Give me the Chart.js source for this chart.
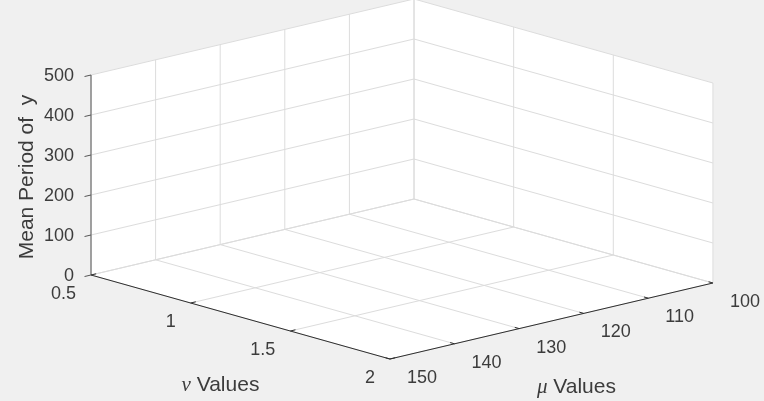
<!DOCTYPE html>
<html>
<head>
<meta charset="utf-8">
<script src="https://cdn.jsdelivr.net/npm/chart.js@4.4.0/dist/chart.umd.min.js"></script>
<style>
html, body { margin: 0; padding: 0; background: #f0f0f0; }
#wrap { width: 764px; height: 401px; }
</style>
</head>
<body>
<div id="wrap"><canvas id="meanPeriod" width="764" height="401"></canvas></div>
<script>
// 刻度 (空的 3D 座標軸, 沒有資料點)
const nuTicks = [0.5, 1, 1.5, 2];
const muTicks = [100, 110, 120, 130, 140, 150];
const zTicks = [0, 100, 200, 300, 400, 500];
const nuLabels = ['0.5', '1', '1.5', '2'];
const muLabels = ['100', '110', '120', '130', '140', '150'];
const zLabels = ['0', '100', '200', '300', '400', '500'];
const nuRange = [0.5, 2];
const muRange = [100, 150];
const zRange = [0, 500];

// 3D -> 畫面 (視角 az/el 的投影)
function proj(nu, mu, z) {
	return {
		x: 91 + (nu - 0.5) * 199.3 - (mu - 150) * 6.46,
		y: 275 + (nu - 0.5) * 56 + (mu - 150) * 1.52 - z * 0.4
	};
}
const GAP = { x: null, y: null };
function seg(arr, a, b) {
	arr.push(a, b, GAP);
}

const nu0 = nuRange[0], nu1 = nuRange[1];
const mu0 = muRange[0], mu1 = muRange[1];
const z0 = zRange[0], z1 = zRange[1];

// 白色的三個面
let box = [proj(nu0, mu1, z0), proj(nu0, mu1, z1), proj(nu0, mu0, z1), proj(nu1, mu0, z1),
	proj(nu1, mu0, z0), proj(nu1, mu1, z0), proj(nu0, mu1, z0)];

// 格線
let grid = [];
muTicks.forEach(m => seg(grid, proj(nu0, m, z0), proj(nu1, m, z0)));
nuTicks.forEach(n => seg(grid, proj(n, mu0, z0), proj(n, mu1, z0)));
muTicks.forEach(m => seg(grid, proj(nu0, m, z0), proj(nu0, m, z1)));
zTicks.forEach(z => seg(grid, proj(nu0, mu0, z), proj(nu0, mu1, z)));
nuTicks.forEach(n => seg(grid, proj(n, mu0, z0), proj(n, mu0, z1)));
zTicks.forEach(z => seg(grid, proj(nu0, mu0, z), proj(nu1, mu0, z)));

// 座標軸 + 刻度線
let axisXY = [];
seg(axisXY, proj(nu0, mu1, z0), proj(nu1, mu1, z0));
seg(axisXY, proj(nu1, mu1, z0), proj(nu1, mu0, z0));
nuTicks.forEach(n => seg(axisXY, proj(n, mu1, z0), proj(n, mu1 - 0.8, z0)));
muTicks.forEach(m => seg(axisXY, proj(nu1, m, z0), proj(nu1 - 0.022, m, z0)));
let axisZ = [];
seg(axisZ, proj(nu0, mu1, z0), proj(nu0, mu1, z1));
zTicks.forEach(z => seg(axisZ, proj(nu0, mu1, z), proj(nu0, mu1 + 1, z)));

function lineSet(data, color, order) {
	return {
		data: data,
		showLine: true,
		borderColor: color,
		borderWidth: 1,
		pointRadius: 0,
		fill: false,
		order: order
	};
}

// 文字
const labelPlugin = {
	id: 'labels3d',
	afterDraw(chart) {
		const ctx = chart.ctx;
		const xs = chart.scales.x, ys = chart.scales.y;
		const px = p => ({ x: xs.getPixelForValue(p.x), y: ys.getPixelForValue(p.y) });
		ctx.save();
		ctx.fillStyle = '#3c3c3c';
		ctx.font = '18px "Liberation Sans", Arial, sans-serif';
		ctx.textBaseline = 'middle';

		ctx.textAlign = 'right';
		zTicks.forEach((z, i) => {
			const p = px(proj(nu0, mu1, z));
			ctx.fillText(zLabels[i], p.x - 17, p.y + 1);
		});
		nuTicks.forEach((n, i) => {
			const p = px(proj(n, mu1, z0));
			ctx.fillText(nuLabels[i], p.x - 15, p.y + 19);
		});
		ctx.textAlign = 'left';
		muTicks.forEach((m, i) => {
			const p = px(proj(nu1, m, z0));
			ctx.fillText(muLabels[i], p.x + 17, p.y + 19);
		});

		// 軸標題
		const drawMixed = (greek, rest, cx, cy) => {
			const gFont = 'italic 21px "Liberation Serif", serif';
			const rFont = '21px "Liberation Sans", Arial, sans-serif';
			ctx.font = gFont;
			const w1 = ctx.measureText(greek).width;
			ctx.font = rFont;
			const w2 = ctx.measureText(rest).width;
			let x = cx - (w1 + w2) / 2;
			ctx.textAlign = 'left';
			ctx.font = gFont;
			ctx.fillText(greek, x, cy);
			ctx.font = rFont;
			ctx.fillText(rest, x + w1, cy);
		};
		let p = px(proj((nu0 + nu1) / 2, mu1, z0));
		drawMixed('\u03bd', ' Values', p.x - 20, p.y + 68);
		p = px(proj(nu1, (mu0 + mu1) / 2, z0));
		drawMixed('\u03bc', ' Values', p.x + 25, p.y + 66);

		p = px(proj(nu0, mu1, (z0 + z1) / 2));
		ctx.translate(p.x - 64, p.y + 2);
		ctx.rotate(-Math.PI / 2);
		ctx.textAlign = 'center';
		ctx.font = '21px "Liberation Sans", Arial, sans-serif';
		ctx.fillText('Mean Period of  y', 0, 0);
		ctx.restore();
	}
};

const chartEl = document.getElementById('meanPeriod');
new Chart(chartEl, {
	type: 'scatter',
	data: {
		datasets: [
			lineSet(axisXY, '#2e2e2e', 1),
			lineSet(axisZ, '#555555', 2),
			lineSet(grid, '#dcdcdc', 3),
			{
				data: box,
				showLine: true,
				borderWidth: 0,
				borderColor: 'rgba(0,0,0,0)',
				backgroundColor: '#ffffff',
				pointRadius: 0,
				fill: 'shape',
				order: 4
			}
		]
	},
	options: {
		responsive: false,
		animation: false,
		events: [],
		clip: false,
		layout: { padding: 0 },
		scales: {
			x: { type: 'linear', min: 0, max: 764, display: false },
			y: { type: 'linear', min: 0, max: 401, reverse: true, display: false }
		},
		plugins: {
			legend: { display: false },
			tooltip: { enabled: false },
			title: { display: false }
		}
	},
	plugins: [labelPlugin]
});
</script>
</body>
</html>
